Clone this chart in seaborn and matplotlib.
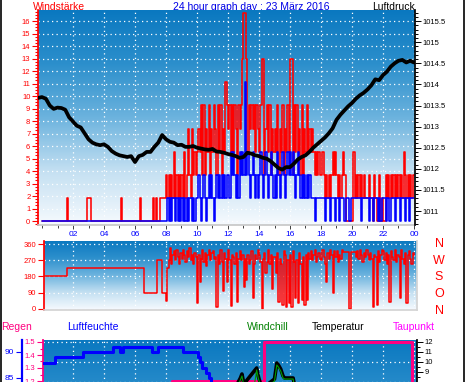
import matplotlib
matplotlib.use("Agg")

import numpy as np
import matplotlib.pyplot as plt
from matplotlib.colors import LinearSegmentedColormap
from matplotlib.lines import Line2D
from matplotlib.ticker import MultipleLocator, FixedLocator, FuncFormatter
import seaborn as sns

sns.set_theme(style="white")
plt.rcParams["font.family"] = ["Liberation Sans", "DejaVu Sans"]
plt.rcParams["path.simplify"] = False   # keep every step of the dense wind traces

# ─────────────────────────────────────────────────────────────
# DATA  (23 März 2016, one day)
# ─────────────────────────────────────────────────────────────
# wind, 5-minute samples, one string per hour, digit = level (x 1.85)
WIND_STEP = 1.85
GUST_LEVELS = [
    "000000000000", "000000010000", "000000000001", "110000000000",
    "000000000000", "010000000000", "000010000000", "001010011111",
    "212121312121", "213124214232", "343525243524", "354253524365",
    "453535425457", "997354545354", "357724535243", "435243524353",
    "772535342524", "353434323232", "232121212323", "212123200000",
    "031212121211", "121102100201", "002121212121", "212132121212",
]
AVG_LEVELS = [
    "000000000000", "000000000000", "000000000000", "000000000000",
    "000000000000", "000000000000", "000000000000", "000000000000",
    "010101101010", "101010110101", "121012101212", "101212121212",
    "213232121323", "262321232121", "232123212321", "213212321232",
    "323212321212", "121211101111", "111011101110", "110111011101",
    "111111101111", "101101110101", "110110111011", "101110110111",
]

# air pressure (hPa), 15-minute samples from 23:45 the day before
PRESSURE = [
    1013.68,
    1013.70, 1013.66, 1013.50, 1013.42, 1013.45, 1013.44, 1013.40, 1013.22,
    1013.12, 1013.02, 1012.98, 1012.84, 1012.70, 1012.62, 1012.58, 1012.56,
    1012.58, 1012.52, 1012.42, 1012.36, 1012.32, 1012.30, 1012.28, 1012.30,
    1012.16, 1012.30, 1012.33, 1012.40, 1012.40, 1012.52, 1012.62, 1012.80,
    1012.70, 1012.64, 1012.62, 1012.56, 1012.57, 1012.52, 1012.52, 1012.54,
    1012.50, 1012.48, 1012.46, 1012.45, 1012.47, 1012.41, 1012.40, 1012.38,
    1012.35, 1012.33, 1012.30, 1012.26, 1012.28, 1012.38, 1012.36, 1012.32,
    1012.30, 1012.26, 1012.24, 1012.18, 1012.10, 1012.02, 1011.98, 1012.04,
    1012.04, 1012.12, 1012.22, 1012.28, 1012.32, 1012.40, 1012.50, 1012.58,
    1012.66, 1012.74, 1012.84, 1012.96, 1013.16, 1013.28, 1013.38, 1013.48,
    1013.56, 1013.66, 1013.74, 1013.80, 1013.88, 1013.98, 1014.12, 1014.10,
    1014.22, 1014.30, 1014.42, 1014.50, 1014.56, 1014.58, 1014.52, 1014.56,
    1014.52,
]

# wind direction (deg), 5-minute samples, one row per hour
DIRECTION = (
    [180] * 12
    + [180] * 7 + [225] * 5
    + [225] * 12 + [225] * 12 + [225] * 12 + [225] * 12
    + [225] * 7 + [90] * 5
    + [90] * 5 + [270] * 4 + [90] * 3
    + [45, 225, 270, 340, 250, 300, 320, 270, 330, 290, 250, 310]
    + [280, 330, 300, 260, 320, 290, 340, 270, 300, 250, 310, 290]
    + [30, 300, 150, 280, 330, 260, 310, 240, 300, 330, 270, 310]
    + [320, 280, 290, 10, 300, 250, 330, 260, 100, 310, 280, 150]
    + [330, 270, 15, 300, 290, 250, 310, 40, 280, 320, 270, 300]
    + [120, 280, 160, 300, 250, 270, 320, 60, 250, 300, 280, 330]
    + [300, 260, 0, 280, 310, 200, 260, 330, 250, 300, 110, 290]
    + [290, 200, 310, 40, 280, 250, 20, 320, 300, 10, 270, 30]
    + [300, 10, 320, 260, 60, 270, 30, 310, 250, 50, 290, 20]
    + [300, 50, 310, 280, 320, 270, 300, 330, 260, 290, 310, 280]
    + [270, 330, 290, 250, 150, 310, 280, 330, 300, 90, 320, 290]
    + [320, 260, 300, 280, 330, 318, 318, 318, 318, 318, 0, 318]
    + [318, 318, 318, 290, 320, 280, 330, 300, 260, 310, 290, 330]
    + [300, 270, 310, 280, 10, 300, 290, 20, 320, 260, 300, 330]
    + [320, 270, 310, 250, 300, 40, 320, 290, 270, 330, 260, 300]
    + [290, 60, 330, 280, 250, 310, 30, 300, 320, 280, 250, 310]
    + [300]
)

# humidity (%), step changes
HUM_TIME = [0, 0.84, 2.62, 4.6, 5.0, 5.2, 7.08, 7.5, 9.1, 10.06,
            10.2, 10.35, 10.55, 10.75, 10.9, 11.1, 11.4, 12.0, 24.2]
HUM_VALUE = [87.9, 89.0, 90.0, 91.0, 90.0, 91.0, 90.0, 91.0, 90.0, 89.0,
             88.0, 87.0, 86.0, 85.0, 84.0, 82.0, 79.0, 75.0, 75.0]

# rain (mm)
RAIN_TIME = [0, 8.37, 14.34, 23.85, 24.2]
RAIN_VALUE = [1.0, 1.2, 1.5, 0.0, 0.0]

# temperature / windchill (°C)
TEMP_TIME = [0, 6, 10, 12, 12.6, 12.8, 12.9, 13.0, 13.3, 13.7, 13.85, 13.95,
             14.1, 14.5, 15.0, 15.15, 15.25, 15.4, 15.55, 15.65, 16.2, 16.3,
             17, 20, 24]
TEMP_VALUE = [5.5, 4.5, 6.5, 7.4, 7.8, 8.4, 8.8, 8.0, 7.6, 7.9, 9.4, 8.6,
              7.8, 7.7, 8.3, 9.9, 9.7, 9.3, 8.6, 8.4, 8.4, 7.6,
              7.2, 6.0, 5.0]
CHILL_TIME = [0, 6, 10, 12, 12.6, 12.8, 12.9, 13.0, 13.3, 13.7, 13.85, 13.95,
              14.1, 14.5, 15.0, 15.15, 15.25, 15.4, 15.55, 15.65, 16.2, 16.3,
              17, 20, 24]
CHILL_VALUE = [5.2, 4.1, 6.2, 7.2, 7.6, 8.2, 8.6, 7.8, 7.4, 7.7, 9.2, 8.4,
               7.6, 7.5, 8.1, 9.7, 9.5, 9.1, 8.4, 8.3, 8.3, 7.4,
               7.0, 5.8, 4.8]

HOUR_LABELS = ["02", "04", "06", "08", "10", "12", "14", "16", "18", "20", "22", "00"]
COMPASS = ["N", "W", "S", "O", "N"]

# ─────────────────────────────────────────────────────────────
# LAYOUT HELPERS (pixel based, 470 x 382)
# ─────────────────────────────────────────────────────────────
W, H = 470, 382
fig = plt.figure(figsize=(W / 100, H / 100), dpi=100)
fig.patch.set_facecolor("white")


def add_axes_px(left, top, right, bottom):
    return fig.add_axes([left / W, 1 - bottom / H, (right - left) / W, (bottom - top) / H])


def hour_at(xpx):
    return (xpx - 42) / 15.5


sky = LinearSegmentedColormap.from_list(
    "sky", ["#0a78c0", "#2c8fcc", "#6cb3de", "#c4e0f2", "#f6fafe"])
gradient = np.linspace(0, 1, 256).reshape(-1, 1)


def paint_sky(ax):
    ax.imshow(gradient, cmap=sky, aspect="auto", extent=[0, 1, 0, 1],
              transform=ax.transAxes, origin="upper", zorder=0)
    ax.set_axisbelow(True)


DOTS = dict(color="white", linestyle=(0, (1, 2.6)), linewidth=0.9)
fmt_g = FuncFormatter(lambda v, _: f"{v:g}")

gust = [int(c) * WIND_STEP for row in GUST_LEVELS for c in row]
avg = [int(c) * WIND_STEP for row in AVG_LEVELS for c in row]
t_wind = np.arange(len(gust) + 1) * 5 / 60
t_press = -0.25 + np.arange(len(PRESSURE)) * 0.25
t_dir = np.arange(len(DIRECTION)) * 5 / 60

# ─────────────────────────────────────────────────────────────
# 1. WIND + PRESSURE
# ─────────────────────────────────────────────────────────────
ax_w = add_axes_px(38, 10, 415, 225)
paint_sky(ax_w)
sns.lineplot(x=t_wind, y=gust + gust[-1:], ax=ax_w, color="red", linewidth=1.15,
             drawstyle="steps-post", estimator=None, sort=False, zorder=2)
sns.lineplot(x=t_wind, y=avg + avg[-1:], ax=ax_w, color="blue", linewidth=1.15,
             drawstyle="steps-post", estimator=None, sort=False, zorder=3)
ax_w.set_xlim(hour_at(38), hour_at(415))
ax_w.set_ylim((221 - 225) / 12.5, (221 - 10) / 12.5)
ax_w.yaxis.set_major_locator(MultipleLocator(1))
ax_w.yaxis.set_minor_locator(MultipleLocator(0.25))
ax_w.xaxis.set_major_locator(FixedLocator(range(2, 25, 2)))
ax_w.xaxis.set_minor_locator(MultipleLocator(1))
ax_w.set_xticklabels(HOUR_LABELS)
ax_w.tick_params(axis="y", which="both", colors="red", labelsize=5.5,
                 direction="out", width=0.8, pad=1.5, left=True)
ax_w.tick_params(axis="y", which="major", length=4)
ax_w.tick_params(axis="y", which="minor", length=2)
ax_w.tick_params(axis="x", which="both", colors="#404040", labelcolor="blue",
                 labelsize=6, direction="out", width=0.7, pad=1.5, bottom=True)
ax_w.tick_params(axis="x", which="major", length=3)
ax_w.tick_params(axis="x", which="minor", length=2)
ax_w.grid(True, which="major", **DOTS)
for side in ["top", "right"]:
    ax_w.spines[side].set_visible(False)
ax_w.spines["left"].set_color("red")
ax_w.spines["bottom"].set_color("#c8c8c8")
ax_w.set_xlabel("")
ax_w.set_ylabel("")

ax_p = ax_w.twinx()
sns.lineplot(x=t_press, y=PRESSURE, ax=ax_p, color="black", linewidth=2.7,
             estimator=None, sort=False)
ax_p.set_ylim(1011 - 14 / 42.2, 1011 + 201 / 42.2)
ax_p.yaxis.set_major_locator(MultipleLocator(0.5))
ax_p.yaxis.set_minor_locator(MultipleLocator(0.1))
ax_p.yaxis.set_major_formatter(fmt_g)
ax_p.tick_params(axis="y", which="both", colors="black", labelsize=5.5,
                 direction="out", width=0.7, pad=1.5, right=True)
ax_p.tick_params(axis="y", which="major", length=4)
ax_p.tick_params(axis="y", which="minor", length=2)
for side in ["top", "left", "bottom"]:
    ax_p.spines[side].set_visible(False)
ax_p.spines["right"].set_color("black")
ax_p.set_ylabel("")

# ─────────────────────────────────────────────────────────────
# 2. WIND DIRECTION
# ─────────────────────────────────────────────────────────────
ax_d = add_axes_px(44, 241, 417, 310)
paint_sky(ax_d)
sns.lineplot(x=t_dir, y=DIRECTION, ax=ax_d, color="red", linewidth=1.1,
             drawstyle="steps-post", estimator=None, sort=False, zorder=2)
ax_d.set_xlim(hour_at(44), hour_at(417))
ax_d.set_ylim((308.7 - 310) / 0.179, (308.7 - 241) / 0.179)
ax_d.yaxis.set_major_locator(FixedLocator([0, 90, 180, 270, 360]))
ax_d.xaxis.set_major_locator(FixedLocator(range(2, 25, 2)))
ax_d.tick_params(axis="y", colors="red", labelsize=5.5, direction="out",
                 length=4, width=0.8, pad=1.5, left=True)
ax_d.tick_params(axis="x", length=0, labelbottom=False)
ax_d.grid(True, which="major", **DOTS)
ax_d.spines["top"].set_visible(False)
ax_d.spines["left"].set_color("red")
ax_d.spines["right"].set_color("#d4d4d4")
ax_d.spines["bottom"].set_color("#d4d4d4")
ax_d.set_xlabel("")
ax_d.set_ylabel("")

for i, letter in enumerate(COMPASS):
    fig.text(439 / W, 1 - (244 + i * 16.7) / H, letter, color="red",
             fontsize=9, ha="center", va="center")

# ─────────────────────────────────────────────────────────────
# 3. RAIN / HUMIDITY / TEMPERATURE (panel runs past the bottom edge)
# ─────────────────────────────────────────────────────────────
ax_b = add_axes_px(43, 340, 417, 560)
paint_sky(ax_b)
ax_b.set_xlim(hour_at(43), hour_at(417))
ax_b.set_ylim(12.2 - 22, 12.2)
ax_b.xaxis.set_major_locator(FixedLocator(range(2, 25, 2)))
ax_b.tick_params(axis="x", length=0, labelbottom=False)
ax_b.xaxis.grid(True, **DOTS)
for v in np.arange(-8, 13, 2):
    ax_b.axhline(v, zorder=0.5, **DOTS)

ax_r = ax_b.twinx()
sns.lineplot(x=RAIN_TIME, y=RAIN_VALUE, ax=ax_r, color="#ff0080", linewidth=2.2,
             drawstyle="steps-post", estimator=None, sort=False)
ax_r.set_ylim(1.5 - 218 / 130, 1.5 + 2 / 130)

ax_t = ax_b.twinx()
sns.lineplot(x=TEMP_TIME, y=TEMP_VALUE, ax=ax_t, color="black", linewidth=2.6,
             estimator=None, sort=False)
sns.lineplot(x=CHILL_TIME, y=CHILL_VALUE, ax=ax_t, color="#00a000", linewidth=0.8,
             estimator=None, sort=False)
ax_t.set_ylim(12.2 - 22, 12.2)
ax_t.axis("off")

ax_h = ax_b.twinx()
sns.lineplot(x=HUM_TIME, y=HUM_VALUE, ax=ax_h, color="blue", linewidth=2.2,
             drawstyle="steps-post", estimator=None, sort=False)
ax_h.set_ylim(90 - 208 / 5.2, 90 + 12 / 5.2)
ax_h.set_xlim(hour_at(43), hour_at(417))

# temperature scale on the right (twinx moved it, put it back)
ax_b.yaxis.tick_right()
ax_b.yaxis.set_major_locator(FixedLocator([9, 10, 11, 12]))
ax_b.yaxis.set_minor_locator(FixedLocator([8.5, 9.5, 10.5, 11.5]))
ax_b.tick_params(axis="y", which="both", colors="black", labelsize=5.5,
                 direction="out", width=0.7, pad=1.5, right=True, left=False,
                 labelleft=False, labelright=True)
ax_b.tick_params(axis="y", which="major", length=4)
ax_b.tick_params(axis="y", which="minor", length=2)
for side in ["top", "left", "bottom"]:
    ax_b.spines[side].set_visible(False)
ax_b.spines["right"].set_color("black")

# rain scale, magenta, at the panel edge
ax_r.yaxis.tick_left()
ax_r.yaxis.set_major_locator(FixedLocator([1.2, 1.3, 1.4, 1.5]))
ax_r.yaxis.set_minor_locator(FixedLocator([1.25, 1.35, 1.45]))
ax_r.yaxis.set_major_formatter(FuncFormatter(lambda v, _: f"{v:.1f}"))
ax_r.tick_params(axis="y", which="both", colors="#ff0080", labelsize=5.5,
                 direction="out", width=0.8, pad=1.5, left=True, right=False,
                 labelleft=True, labelright=False)
ax_r.tick_params(axis="y", which="major", length=4)
ax_r.tick_params(axis="y", which="minor", length=2)
for side in ["top", "right", "bottom"]:
    ax_r.spines[side].set_visible(False)
ax_r.spines["left"].set_visible(True)
ax_r.spines["left"].set_color("#ff0080")
ax_r.spines["left"].set_linewidth(1.3)
ax_r.set_ylabel("")

# humidity scale, blue, further out
ax_h.yaxis.tick_left()
ax_h.yaxis.set_major_locator(FixedLocator([85, 90]))
ax_h.tick_params(axis="y", colors="blue", labelsize=6, direction="out",
                 length=4, width=0.8, pad=1.5, left=True, right=False,
                 labelleft=True, labelright=False)
for side in ["top", "right", "bottom"]:
    ax_h.spines[side].set_visible(False)
ax_h.spines["left"].set_visible(True)
ax_h.spines["left"].set_position(("outward", 21 * 0.72))
ax_h.spines["left"].set_color("blue")
ax_h.spines["left"].set_linewidth(1.6)
ax_h.set_ylabel("")

# ─────────────────────────────────────────────────────────────
# 4. TEXT
# ─────────────────────────────────────────────────────────────
def label_px(x, y, text, color, ha="left", size=7.5):
    fig.text(x / W, 1 - y / H, text, color=color, fontsize=size, ha=ha,
             va="baseline", zorder=-1)


label_px(33, 9.5, "Windstärke", "red")
label_px(251, 9.5, "24 hour graph day : 23 März 2016", "#0000e6", ha="center")
label_px(415, 9.5, "Luftdruck", "black", ha="right")
label_px(1, 330, "Regen", "#ff0080")
label_px(67, 330, "Luftfeuchte", "blue")
label_px(247, 330, "Windchill", "#008000")
label_px(312, 330, "Temperatur", "black")
label_px(393, 330, "Taupunkt", "#ff00ff")

for xpx in [0.7, 463.8]:
    fig.add_artist(Line2D([xpx / W] * 2, [0, 1], color="black", linewidth=1.2,
                          transform=fig.transFigure))

fig.savefig("out.png", dpi=100)
